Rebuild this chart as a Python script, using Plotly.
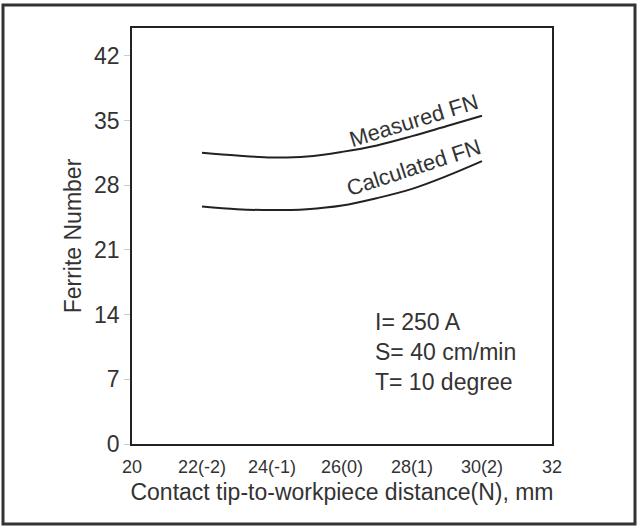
import plotly.graph_objects as go

x_vals = [22, 23, 24, 25, 26, 27, 28, 29, 30]
measured_fn = [31.5, 31.2, 31.0, 31.1, 31.6, 32.3, 33.3, 34.4, 35.5]
calculated_fn = [25.7, 25.4, 25.3, 25.4, 25.8, 26.6, 27.6, 29.0, 30.6]

x_tick_vals = [20, 22, 24, 26, 28, 30, 32]
x_tick_text = ["20", "22(-2)", "24(-1)", "26(0)", "28(1)", "30(2)", "32"]
y_tick_vals = [0, 7, 14, 21, 28, 35, 42]

W, H = 638, 527
L, R, T, B = 132, 552, 28, 444
FONT = "Liberation Sans, Arial, sans-serif"
TXT = "#333"

fig = go.Figure()
fig.add_trace(go.Scatter(x=x_vals, y=measured_fn, mode="lines", line=dict(color="#222", width=2, shape="spline"),
                         name="Measured FN", showlegend=False))
fig.add_trace(go.Scatter(x=x_vals, y=calculated_fn, mode="lines", line=dict(color="#222", width=2, shape="spline"),
                         name="Calculated FN", showlegend=False))

fig.add_annotation(x=28.05, y=35.0, text="Measured FN", showarrow=False, textangle=-17,
                   font=dict(family=FONT, size=22, color=TXT), yanchor="middle", xanchor="center")
fig.add_annotation(x=28.05, y=29.9, text="Calculated FN", showarrow=False, textangle=-18,
                   font=dict(family=FONT, size=22, color=TXT), yanchor="middle", xanchor="center")
fig.add_annotation(x=26.89, y=9.9, text="I= 250 A<br>S= 40 cm/min<br>T= 10 degree", showarrow=False,
                   align="left", xanchor="left", yanchor="middle",
                   font=dict(family=FONT, size=23, color=TXT))

pw, ph = R - L, B - T
fig.add_shape(type="rect", xref="paper", yref="paper",
              x0=(3 - L) / pw, x1=(635 - L) / pw, y0=(B - 524) / ph, y1=(B - 5) / ph,
              line=dict(color="#333", width=3), layer="below")

fig.update_layout(
    width=W, height=H, margin=dict(l=L, r=W - R, t=T, b=H - B),
    paper_bgcolor="white", plot_bgcolor="white",
    font=dict(family=FONT, color=TXT),
    xaxis=dict(range=[20, 32], tickvals=x_tick_vals, ticktext=x_tick_text, showgrid=False, zeroline=False,
               showline=True, linecolor="#222", linewidth=1.5, mirror=True, ticks="outside", ticklen=6,
               tickcolor="rgba(0,0,0,0)",
               tickfont=dict(size=18, color=TXT),
               title=dict(text="Contact tip-to-workpiece distance(N), mm", font=dict(size=23, color=TXT), standoff=8)),
    yaxis=dict(range=[0, 45], tickvals=y_tick_vals, showgrid=False, zeroline=False,
               showline=True, linecolor="#222", linewidth=1.5, mirror=True, ticks="outside", ticklen=6,
               tickcolor="#ccc", tickfont=dict(size=23, color=TXT),
               title=dict(text="Ferrite Number", font=dict(size=23, color=TXT), standoff=6)),
)

fig.write_html("out.html", config={"displayModeBar": False},
               post_script="document.body.style.margin='0';document.body.style.overflow='hidden';")
